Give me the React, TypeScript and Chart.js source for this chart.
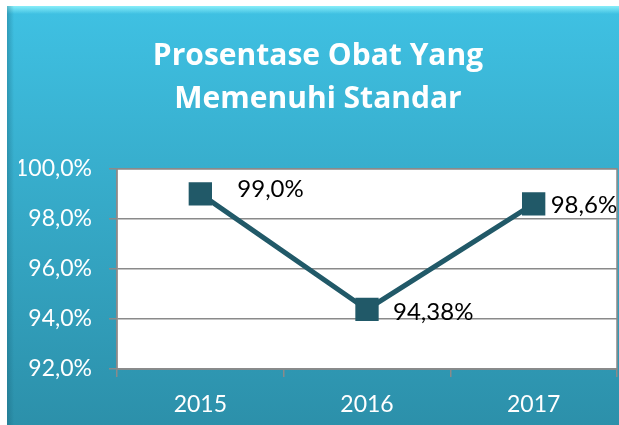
import React, { useEffect, useRef } from "react";
import { Chart, registerables } from "chart.js";

Chart.register(...registerables);

const categories = ["2015", "2016", "2017"];
const values = [99.0, 94.38, 98.6];
const dataLabels = ["99,0%", "94,38%", "98,6%"];
const titleLines = ["Prosentase Obat Yang", "Memenuhi Standar"];
const yMin = 92;
const yMax = 100;
const yStep = 2;

const FONT = "Lato, 'Open Sans', sans-serif";
const TITLE_FONT = "'Open Sans', Lato, sans-serif";

const panelPlugin = {
  id: "panelBg",
  beforeDraw(chart: any) {
    const { ctx, width, height, chartArea } = chart;
    ctx.save();
    ctx.fillStyle = "#ffffff";
    ctx.fillRect(0, 0, width, height);
    const g = ctx.createLinearGradient(0, 6, 0, height);
    g.addColorStop(0, "#3fc1e3");
    g.addColorStop(1, "#2c90aa");
    ctx.fillStyle = g;
    ctx.fillRect(7, 6, width - 7, height - 6);
    const b = ctx.createLinearGradient(0, 6, 0, 14);
    b.addColorStop(0, "rgba(140,240,250,0.95)");
    b.addColorStop(1, "rgba(140,240,250,0)");
    ctx.fillStyle = b;
    ctx.fillRect(7, 6, width - 7, 8);
    const l = ctx.createLinearGradient(7, 0, 14, 0);
    l.addColorStop(0, "rgba(20,90,110,0.35)");
    l.addColorStop(1, "rgba(20,90,110,0)");
    ctx.fillStyle = l;
    ctx.fillRect(7, 6, 7, height - 6);
    ctx.fillStyle = "#ffffff";
    ctx.fillRect(chartArea.left, chartArea.top, chartArea.right - chartArea.left, chartArea.bottom - chartArea.top);
    ctx.restore();
  },
  beforeDatasetsDraw(chart: any) {
    const { ctx, chartArea } = chart;
    ctx.save();
    ctx.strokeStyle = "#8a8a8a";
    ctx.lineWidth = 1.5;
    ctx.strokeRect(chartArea.left, chartArea.top, chartArea.right - chartArea.left, chartArea.bottom - chartArea.top);
    ctx.restore();
  },
};

const labelPlugin = {
  id: "pointLabels",
  afterDatasetsDraw(chart: any, _args: any, opts: any) {
    const { ctx } = chart;
    const meta = chart.getDatasetMeta(0);
    const offsets = opts.offsets || [];
    ctx.save();
    ctx.font = `24px ${FONT}`;
    ctx.fillStyle = "#000000";
    ctx.textAlign = "left";
    ctx.textBaseline = "middle";
    meta.data.forEach((pt: any, i: number) => {
      const o = offsets[i] || [20, 0];
      ctx.fillText(dataLabels[i], pt.x + o[0], pt.y + o[1]);
    });
    ctx.restore();
  },
};

export default function App() {
  const ref = useRef<HTMLCanvasElement | null>(null);

  useEffect(() => {
    document.body.style.margin = "0";
    const canvas = ref.current;
    if (!canvas) return;
    const chart = new Chart(canvas, {
      type: "line",
      data: {
        labels: categories,
        datasets: [
          {
            data: values,
            borderColor: "#215968",
            backgroundColor: "#215968",
            borderWidth: 5,
            pointStyle: "rect",
            pointRadius: 16.5,
            pointHoverRadius: 16.5,
            pointBorderWidth: 0,
            tension: 0,
          },
        ],
      },
      options: {
        responsive: false,
        animation: false,
        events: [],
        layout: { autoPadding: false, padding: { left: 19, right: 2, top: 0, bottom: 0 } },
        plugins: {
          legend: { display: false },
          tooltip: { enabled: false },
          title: {
            display: true,
            text: titleLines,
            color: "#ffffff",
            font: { family: TITLE_FONT, size: 30, weight: "bold", lineHeight: 1.43 },
            padding: { top: 35, bottom: 48 },
          },
          pointLabels: { offsets: [[37, -5], [26, 3], [17, 1]] },
        } as any,
        scales: {
          x: {
            offset: true,
            grid: {
              display: true,
              offset: true,
              drawOnChartArea: false,
              drawTicks: true,
              tickLength: 8,
              color: "#8a8a8a",
              lineWidth: 1.5,
            },
            border: { display: true, color: "#8a8a8a", width: 1.5 },
            ticks: { color: "#ffffff", font: { family: FONT, size: 23 }, padding: 14 },
            afterFit(scale: any) {
              scale.height = 56;
            },
          },
          y: {
            min: yMin,
            max: yMax,
            grid: {
              color: "#8a8a8a",
              lineWidth: 1.5,
              drawTicks: true,
              tickLength: 8,
            },
            border: { display: true, color: "#8a8a8a", width: 1.5 },
            ticks: {
              stepSize: yStep,
              color: "#ffffff",
              padding: 17,
              font: { family: FONT, size: 23 },
              callback: (v: any) => Number(v).toFixed(1).replace(".", ",") + "%",
            },
            afterFit(scale: any) {
              scale.width = 98;
            },
          },
        },
      },
      plugins: [panelPlugin, labelPlugin],
    });
    return () => chart.destroy();
  }, []);

  return (
    <div style={{ width: 619, height: 425 }}>
      <canvas ref={ref} width={619} height={425} style={{ display: "block" }} />
    </div>
  );
}
